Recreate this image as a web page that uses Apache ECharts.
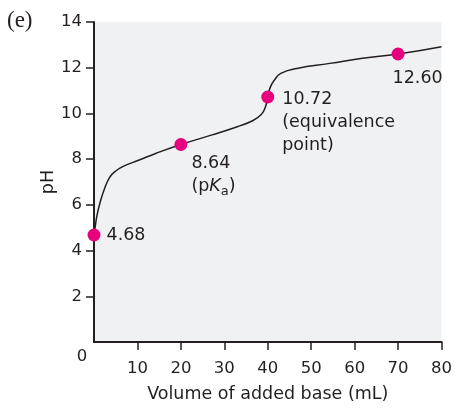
<!DOCTYPE html>
<html>
<head>
<meta charset="utf-8">
<script src="https://cdn.jsdelivr.net/npm/echarts@6/dist/echarts.min.js"></script>
<style>
html,body{margin:0;padding:0;background:#fff;}
#main{width:455px;height:408px;}
</style>
</head>
<body>
<div id="main"></div>
<script>
// ---- data ----
const curveX = [0, 0.25, 0.7, 1.4, 2.5, 3.6, 4.6, 6.6, 10.4, 14.2, 20, 27, 33, 36.5, 38.5, 39.4, 40, 40.6, 41.5, 43, 46.7, 54.3, 61.8, 70, 80];
const curveY = [4.68, 5.0, 5.55, 6.1, 6.75, 7.2, 7.42, 7.67, 7.96, 8.25, 8.64, 9.05, 9.42, 9.68, 9.95, 10.25, 10.72, 11.15, 11.45, 11.75, 11.97, 12.19, 12.41, 12.60, 12.92];
const pointX = [0, 20, 40, 70];
const pointY = [4.68, 8.64, 10.72, 12.60];
const pointLabels = ['4.68', '8.64\n(p{i|K}{s|a})', '10.72\n(equivalence\npoint)', '12.60'];
const xTicks = [10, 20, 30, 40, 50, 60, 70, 80];
const yTicks = [2, 4, 6, 8, 10, 12, 14];
const xTitle = 'Volume of added base (mL)';
const yTitle = 'pH';
const panelTag = '(e)';
const originLabel = '0';

// ---- styling ----
const FONT = '"DejaVu Sans", sans-serif';
const INK = '#231f20';
const labelPlacement = [
  {position: 'right', distance: 6},
  {position: [17, 14], align: 'left', verticalAlign: 'top'},
  {position: [21, -3], align: 'left', verticalAlign: 'top'},
  {position: [1, 19], align: 'left', verticalAlign: 'top'}
];

const chart = echarts.init(document.getElementById('main'), null, {renderer: 'canvas'});

const option = {
  animation: false,
  backgroundColor: '#fff',
  grid: {left: 94, right: 8, top: 22, bottom: 66, show: true, backgroundColor: '#f0f1f3', borderWidth: 0, containLabel: false},
  xAxis: {
    type: 'value', min: 0, max: 80, interval: 10,
    name: xTitle, nameLocation: 'middle', nameGap: 43, nameMoveOverlap: false,
    nameTextStyle: {fontFamily: FONT, fontSize: 17.5, color: INK},
    axisLine: {show: true, lineStyle: {color: INK, width: 2}},
    axisTick: {show: true, length: 8, lineStyle: {color: INK, width: 1.5}, customValues: xTicks},
    axisLabel: {fontFamily: FONT, fontSize: 16.5, color: INK, margin: 18, customValues: xTicks},
    splitLine: {show: false}
  },
  yAxis: {
    type: 'value', min: 0, max: 14, interval: 2,
    name: yTitle, nameLocation: 'middle', nameGap: 37, nameMoveOverlap: false,
    nameTextStyle: {fontFamily: FONT, fontSize: 17.5, color: INK},
    axisLine: {show: true, lineStyle: {color: INK, width: 2}},
    axisTick: {show: true, length: 8, lineStyle: {color: INK, width: 1.5}, customValues: yTicks},
    axisLabel: {fontFamily: FONT, fontSize: 16.5, color: INK, margin: 12, customValues: yTicks},
    splitLine: {show: false}
  },
  series: [
    {
      type: 'line',
      data: curveX.map((x, i) => [x, curveY[i]]),
      showSymbol: false,
      smooth: 0.5,
      lineStyle: {color: INK, width: 1.5},
      z: 2
    },
    {
      type: 'scatter',
      symbolSize: 13,
      itemStyle: {color: '#e6007e', opacity: 1},
      z: 3,
      data: pointX.map((x, i) => ({
        value: [x, pointY[i]],
        label: Object.assign({
          show: true,
          formatter: pointLabels[i],
          fontFamily: FONT,
          fontSize: 17.5,
          lineHeight: 23,
          color: INK,
          opacity: 1,
          rich: {
            i: {fontFamily: FONT, fontSize: 17.5, fontStyle: 'italic', color: INK, lineHeight: 23},
            s: {fontFamily: FONT, fontSize: 13, color: INK, verticalAlign: 'bottom', lineHeight: 23}
          }
        }, labelPlacement[i])
      }))
    }
  ]
};
chart.setOption(option);

const origin = chart.convertToPixel({gridIndex: 0}, [0, 0]);
chart.setOption({
  graphic: [
    {type: 'text', left: 7, top: 9, style: {text: panelTag, font: '23px "Liberation Serif", serif', fill: INK}},
    {type: 'text', x: origin[0] - 12, y: origin[1] + 15, style: {text: originLabel, font: '16.5px "DejaVu Sans", sans-serif', fill: INK, align: 'center', verticalAlign: 'middle'}}
  ]
});
</script>
</body>
</html>
